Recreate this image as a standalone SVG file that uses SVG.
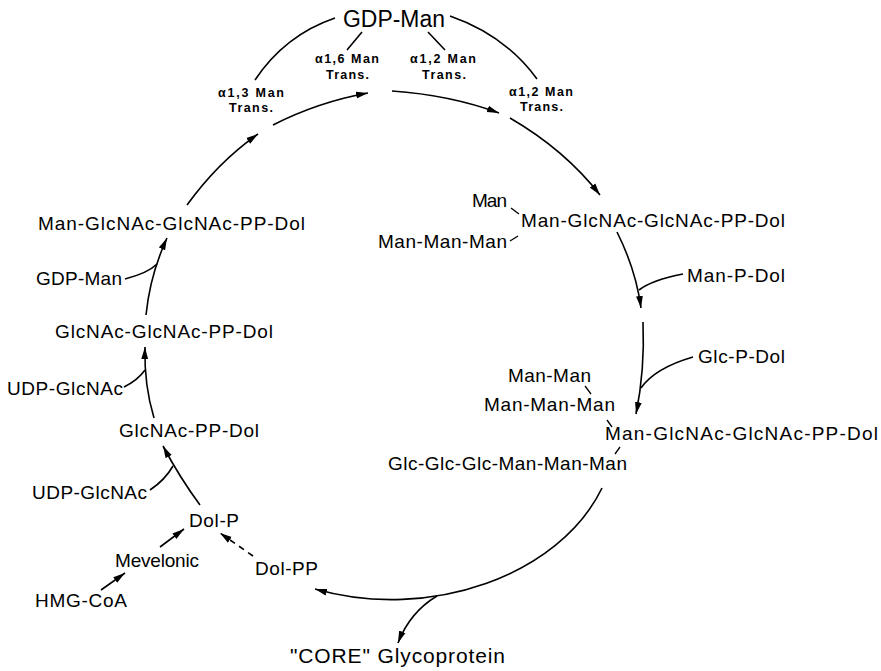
<svg xmlns="http://www.w3.org/2000/svg" width="881" height="671" viewBox="0 0 881 671">
<defs>
<marker id="ah" markerUnits="userSpaceOnUse" markerWidth="14" markerHeight="8" refX="12" refY="4" orient="auto">
<path d="M0,0.6 L12,4 L0,7.4 Z" fill="#000"/>
</marker>
<style>
text{font-family:"Liberation Sans",Arial,sans-serif;fill:#000}
.t{font-size:19px}
.b{font-size:23px}
.e{font-size:12.5px;font-weight:bold}
.c path,.c line{fill:none;stroke:#000;stroke-width:1.6}
.a{marker-end:url(#ah)}
.d{stroke-dasharray:6 5}
.k{stroke:#000;stroke-width:1.3}
</style>
</defs>
<rect width="881" height="671" fill="#fff"/>

<g id="gdpman-top"><text class="b" x="343" y="27" textLength="102" lengthAdjust="spacingAndGlyphs">GDP-Man</text></g>
<g id="enz-a13"><text class="e" x="218" y="97" textLength="66" lengthAdjust="spacing">α1,3 Man</text><text class="e" x="229" y="112" textLength="44" lengthAdjust="spacing">Trans.</text></g>
<g id="enz-a16"><text class="e" x="315" y="63" textLength="64" lengthAdjust="spacing">α1,6 Man</text><text class="e" x="326" y="79" textLength="43" lengthAdjust="spacing">Trans.</text></g>
<g id="enz-a12a"><text class="e" x="410" y="63" textLength="66" lengthAdjust="spacing">α1,2 Man</text><text class="e" x="422" y="79" textLength="44" lengthAdjust="spacing">Trans.</text></g>
<g id="enz-a12b"><text class="e" x="509" y="96" textLength="64" lengthAdjust="spacing">α1,2 Man</text><text class="e" x="520" y="111" textLength="43" lengthAdjust="spacing">Trans.</text></g>

<g id="man5"><text class="t" x="472" y="207" textLength="35" lengthAdjust="spacing">Man</text><text class="t" x="521" y="227" textLength="264" lengthAdjust="spacing">Man-GlcNAc-GlcNAc-PP-Dol</text><text class="t" x="378" y="248" textLength="129" lengthAdjust="spacing">Man-Man-Man</text><line class="k" x1="511" y1="208" x2="519" y2="214"/><line class="k" x1="510" y1="241" x2="518" y2="236"/></g>
<g id="manpdol"><text class="t" x="687" y="282" textLength="98" lengthAdjust="spacing">Man-P-Dol</text></g>
<g id="glcpdol"><text class="t" x="698" y="363" textLength="87" lengthAdjust="spacing">Glc-P-Dol</text></g>
<g id="glc3man9"><text class="t" x="508" y="382" textLength="83" lengthAdjust="spacing">Man-Man</text><text class="t" x="484" y="411" textLength="131" lengthAdjust="spacing">Man-Man-Man</text><text class="t" x="605" y="440" textLength="273" lengthAdjust="spacing">Man-GlcNAc-GlcNAc-PP-Dol</text><text class="t" x="388" y="470" textLength="239" lengthAdjust="spacing">Glc-Glc-Glc-Man-Man-Man</text><line class="k" x1="585" y1="386" x2="591" y2="394"/><line class="k" x1="607" y1="420" x2="612" y2="427"/><line class="k" x1="620" y1="447" x2="615" y2="454"/></g>

<g id="man1"><text class="t" x="38" y="230" textLength="267" lengthAdjust="spacing">Man-GlcNAc-GlcNAc-PP-Dol</text></g>
<g id="gdpman-left"><text class="t" x="36" y="285" textLength="86" lengthAdjust="spacing">GDP-Man</text></g>
<g id="glcnac2"><text class="t" x="55" y="338" textLength="218" lengthAdjust="spacing">GlcNAc-GlcNAc-PP-Dol</text></g>
<g id="udpglcnac1"><text class="t" x="7" y="395" textLength="116" lengthAdjust="spacing">UDP-GlcNAc</text></g>
<g id="glcnac1"><text class="t" x="119" y="437" textLength="140" lengthAdjust="spacing">GlcNAc-PP-Dol</text></g>
<g id="udpglcnac2"><text class="t" x="32" y="499" textLength="115" lengthAdjust="spacing">UDP-GlcNAc</text></g>
<g id="dolp"><text class="t" x="189" y="527" textLength="50" lengthAdjust="spacing">Dol-P</text></g>
<g id="mevelonic"><text class="t" x="115" y="567" textLength="84" lengthAdjust="spacing">Mevelonic</text></g>
<g id="dolpp"><text class="t" x="255" y="575" textLength="63" lengthAdjust="spacing">Dol-PP</text></g>
<g id="hmgcoa"><text class="t" x="35" y="607" textLength="92" lengthAdjust="spacing">HMG-CoA</text></g>
<g id="core"><text x="290" y="663" font-size="21" textLength="215" lengthAdjust="spacing">"CORE" Glycoprotein</text></g>

<g id="connectors" class="c">
<path d="M335,18 Q285,35 255,80"/>
<path d="M362,32 L347,50"/>
<path d="M428,32 L445,50"/>
<path d="M450,16 Q505,35 537,79"/>
<path class="a" d="M187,205 Q218,162 258,134"/>
<path class="a" d="M273,125 Q318,102 368,93"/>
<path class="a" d="M392,91 Q450,95 499,113"/>
<path class="a" d="M510,118 Q565,150 600,195"/>
<path class="a" d="M617,232 Q636,270 641,308"/>
<path d="M683,274 Q652,280 639,290"/>
<path class="a" d="M643,322 Q645,370 636,414"/>
<path d="M693,357 Q655,368 641,388"/>
<path class="a" d="M602,488 C560,575 430,622 315,589"/>
<path class="a" d="M437,596 Q410,612 398,643"/>
<path class="a" d="M200,505 Q180,478 163,446"/>
<path d="M150,490 Q165,480 173,466"/>
<path class="a" d="M154,418 Q144,385 145,347"/>
<path d="M124,387 Q138,380 145,370"/>
<path class="a" d="M146,315 Q150,275 167,238"/>
<path d="M125,279 Q148,273 157,264"/>
<path class="a" d="M160,547 L184,529"/>
<path class="a" d="M101,590 L125,573"/>
<path class="a d" d="M253,556 L220,533"/>
</g>
</svg>
